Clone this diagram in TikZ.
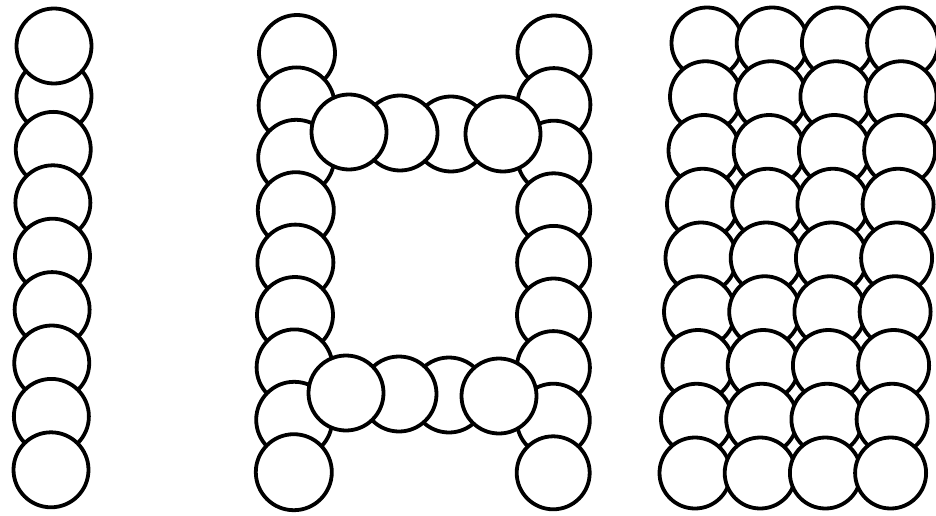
\documentclass[tikz,border=0pt]{standalone}
\usepackage{tikz}
\begin{document}
\begin{tikzpicture}[x=1pt,y=-1pt,
  ball/.style={circle,draw,fill=white,line width=3.8pt,inner sep=0pt,minimum size=#1},
  ball/.default=75pt]
\useasboundingbox (0,0) rectangle (936,516);
\node[ball] (l2) at (54,96) {};
\node[ball] (l1) at (54,46) {};
\foreach \i in {3,...,9}
  \node[ball] (l\i) at ({54-0.375*(\i-1)},{96+53.4*(\i-2)}) {};
\foreach \i in {1,...,9}{
  \node[ball=76pt] (ml\i) at ({297-0.4*(\i-1)},{53+52.4*(\i-1)}) {};
  \node[ball=73pt] (mr\i) at ({554-0.1*(\i-1)},{52+52.6*(\i-1)}) {};
}
\node[ball] (bt3) at (451,134) {};
\node[ball] (bt2) at (400,133) {};
\node[ball] (bt1) at (349,132) {};
\node[ball] (bt4) at (503,134) {};
\node[ball] (bb3) at (449,395) {};
\node[ball] (bb2) at (399,394) {};
\node[ball] (bb1) at (346,393) {};
\node[ball] (bb4) at (499,396) {};
\foreach \r in {0,...,8}
  \foreach \c in {0,...,3}
    \node[ball=71pt] (g\r\c) at ({707-1.5*\r+65.2*\c},{43+53.75*\r}) {};
\end{tikzpicture}
\end{document}
